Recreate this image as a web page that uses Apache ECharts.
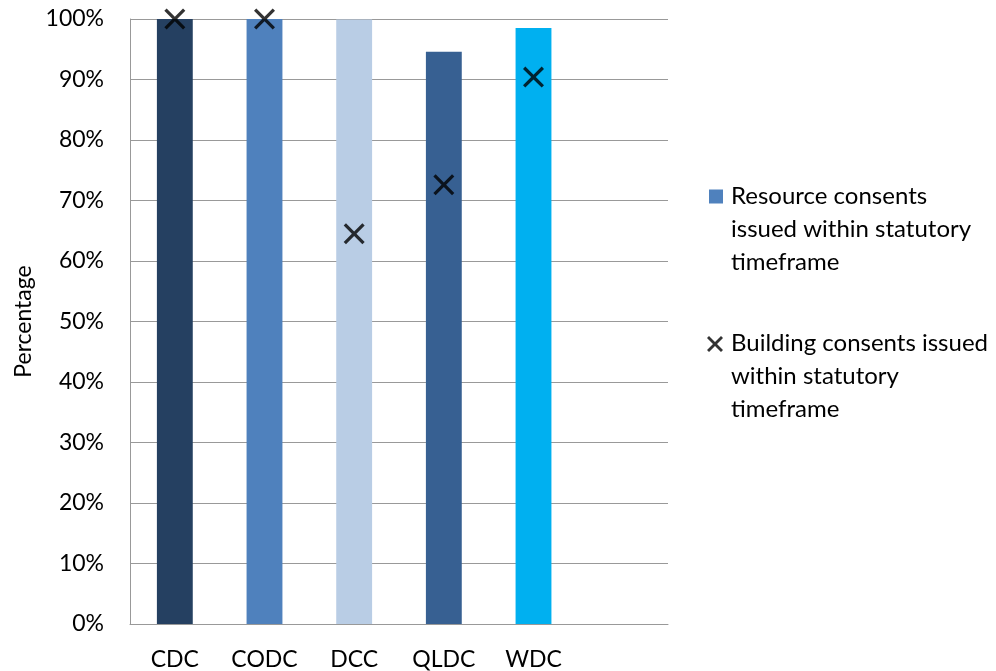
<!DOCTYPE html>
<html>
<head>
<meta charset="utf-8">
<script src="https://cdn.jsdelivr.net/npm/echarts@6/dist/echarts.min.js"></script>
<style>
html, body { margin: 0; padding: 0; background: #fff; }
#chart { width: 996px; height: 671px; }
</style>
</head>
<body>
<div id="chart"></div>
<script>
// councils (last slot is empty, the original chart leaves room for it)
const councils = ['CDC', 'CODC', 'DCC', 'QLDC', 'WDC', '']
const barColors = ['#254061', '#4F81BD', '#B9CDE5', '#376092', '#00B0F0']
const resourceConsents = [100, 100, 99.9, 94.6, 98.5]
const buildingConsents = [100, 100, 64.5, 72.6, 90.4]
const yTicks = [0, 10, 20, 30, 40, 50, 60, 70, 80, 90, 100]

const resourceName = 'Resource consents\nissued within statutory\ntimeframe'
const buildingName = 'Building consents issued\nwithin statutory\ntimeframe'

// thick X marker
const crossPath = 'path://M0,2.2L2.2,0L10,7.8L17.8,0L20,2.2L12.2,10L20,17.8L17.8,20L10,12.2L2.2,20L0,17.8L7.8,10Z'
// legend icons: the leading moves stretch the box so the icon sits next to the first text line
const legendSquare = 'path://M0,0M17,99M0,9.5h14v14h-14Z'
const legendCross = 'path://M0,0M19,99M0,11L2,9L8,15L14,9L16,11L10,17L16,23L14,25L8,19L2,25L0,23L6,17Z'

const font = 'Lato'

let chart = echarts.init(document.getElementById('chart'))
let option = {
  animation: false,
  textStyle: { fontFamily: font },
  grid: { left: 130, right: 328, top: 19, bottom: 46 },
  legend: [
    {
      data: [{ name: resourceName, icon: legendSquare }],
      orient: 'vertical',
      left: 709,
      top: 180,
      padding: 0,
      itemWidth: 17,
      itemHeight: 99,
      textStyle: { fontFamily: font, fontSize: 24, color: '#000', lineHeight: 33 }
    },
    {
      data: [{ name: buildingName, icon: legendCross }],
      orient: 'vertical',
      left: 707,
      top: 327,
      padding: 0,
      itemWidth: 19,
      itemHeight: 99,
      textStyle: { fontFamily: font, fontSize: 24, color: '#000', lineHeight: 33 }
    }
  ],
  xAxis: {
    type: 'category',
    data: councils,
    axisLine: { show: true, lineStyle: { color: '#999', width: 1 } },
    axisTick: { show: false },
    axisLabel: { color: '#000', fontSize: 23, margin: 24, fontFamily: font }
  },
  yAxis: {
    type: 'value',
    min: 0,
    max: 100,
    interval: 10,
    name: 'Percentage',
    nameLocation: 'middle',
    nameGap: 95,
    nameRotate: 90,
    nameTextStyle: { color: '#000', fontSize: 23, fontFamily: font },
    axisLine: { show: true, lineStyle: { color: '#999', width: 1 } },
    axisTick: { show: false },
    axisLabel: {
      color: '#000',
      fontSize: 23,
      margin: 26,
      fontFamily: font,
      customValues: yTicks,
      formatter: '{value}%'
    },
    splitLine: { lineStyle: { color: '#999', width: 1 } }
  },
  series: [
    {
      name: resourceName,
      type: 'bar',
      barWidth: '40%',
      itemStyle: { color: '#4F81BD' },
      data: resourceConsents.map((v, i) => ({ value: v, itemStyle: { color: barColors[i] } }))
    },
    {
      name: buildingName,
      type: 'scatter',
      symbol: crossPath,
      symbolSize: 21,
      itemStyle: { color: '#000' },
      data: buildingConsents,
      z: 5
    }
  ]
}
chart.setOption(option)
</script>
</body>
</html>
